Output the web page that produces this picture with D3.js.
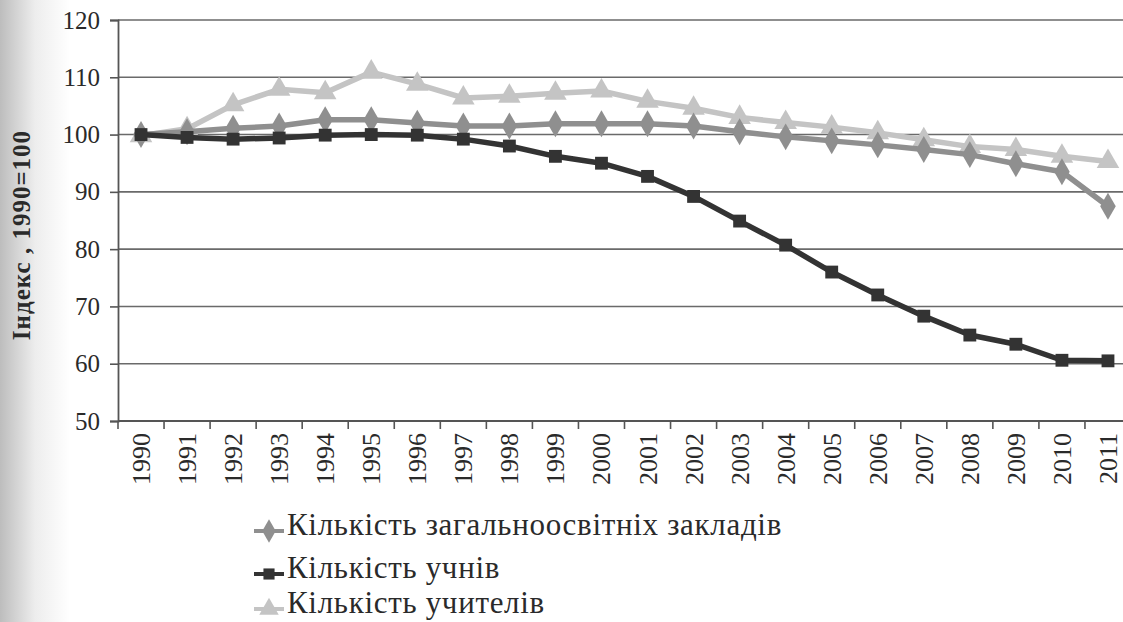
<!DOCTYPE html>
<html>
<head>
<meta charset="utf-8">
<script src="https://d3js.org/d3.v7.min.js"></script>
<style>
  html, body { margin: 0; padding: 0; background: #fff; }
  svg { display: block; }
</style>
</head>
<body>
<svg id="chart" width="1123" height="622"></svg>
<script>
// years on the x axis
var years = ["1990","1991","1992","1993","1994","1995","1996","1997","1998","1999","2000",
             "2001","2002","2003","2004","2005","2006","2007","2008","2009","2010","2011"];

// index values, 1990 = 100
var schools = [100, 100.5, 101.1, 101.5, 102.6, 102.6, 102, 101.5, 101.5, 101.9, 101.9,
               101.9, 101.5, 100.5, 99.6, 98.9, 98.2, 97.4, 96.5, 94.9, 93.5, 87.5];
var pupils = [100, 99.5, 99.2, 99.4, 99.9, 100, 99.9, 99.2, 98, 96.2, 95,
              92.7, 89.2, 84.9, 80.7, 76, 72, 68.3, 65, 63.4, 60.6, 60.5];
var teachers = [99.8, 101, 105.2, 107.9, 107.3, 110.9, 108.8, 106.4, 106.7, 107.2, 107.6,
                105.8, 104.6, 103, 102.1, 101.3, 100.3, 99.1, 97.9, 97.4, 96.2, 95.3];

var seriesNames = ["Кількість загальноосвітніх закладів", "Кількість учнів", "Кількість учителів"];
var yTicks = [50, 60, 70, 80, 90, 100, 110, 120];

var svg = d3.select("#chart");
var W = 1123, H = 622;
var serif = "Liberation Serif";

// scan shadow on the left edge
var defs = svg.append("defs");
var grad = defs.append("linearGradient").attr("id", "shade")
  .attr("x1", "0").attr("x2", "1").attr("y1", "0").attr("y2", "0");
grad.append("stop").attr("offset", "0").attr("stop-color", "#bdbdbd");
grad.append("stop").attr("offset", "0.5").attr("stop-color", "#ededed");
grad.append("stop").attr("offset", "1").attr("stop-color", "#fff");
svg.append("rect").attr("width", W).attr("height", H).attr("fill", "#fff");
svg.append("rect").attr("width", 70).attr("height", H).attr("fill", "url(#shade)");

var plotLeft = 118, plotRight = 1131, plotTop = 20, plotBottom = 421;

var x = d3.scaleBand().domain(years).range([plotLeft, plotRight]);
var y = d3.scaleLinear().domain([50, 120]).range([plotBottom, plotTop]);

// horizontal gridlines
svg.append("g").selectAll("line").data(yTicks.slice(1)).enter().append("line")
  .attr("x1", plotLeft).attr("x2", W)
  .attr("y1", function(d) { return y(d); }).attr("y2", function(d) { return y(d); })
  .attr("stroke", "#6a6a6a").attr("stroke-width", 1.6);

// y axis
var yAxis = svg.append("g").attr("transform", "translate(" + plotLeft + ",0)")
  .call(d3.axisLeft(y).tickValues(yTicks).tickSize(8).tickPadding(10));
yAxis.select(".domain").attr("stroke", "#555").attr("stroke-width", 1.8);
yAxis.selectAll(".tick line").attr("stroke", "#555").attr("stroke-width", 1.6);
yAxis.selectAll("text").style("font-family", serif).style("font-size", "25px").attr("fill", "#2a2a2a");

// x axis: ticks between categories
var xg = svg.append("g").attr("transform", "translate(0," + plotBottom + ")");
xg.append("line").attr("x1", plotLeft).attr("x2", W).attr("stroke", "#555").attr("stroke-width", 1.8);
xg.selectAll(".tk").data(years).enter().append("line").attr("class", "tk")
  .attr("x1", function(d) { return x(d); }).attr("x2", function(d) { return x(d); })
  .attr("y1", 0).attr("y2", 8).attr("stroke", "#555").attr("stroke-width", 1.6);
xg.selectAll("text").data(years).enter().append("text")
  .attr("transform", function(d) {
    return "translate(" + (x(d) + x.bandwidth() / 2 + 9) + ",12) rotate(-90)";
  })
  .attr("text-anchor", "end")
  .style("font-family", serif).style("font-size", "26px").attr("fill", "#2a2a2a")
  .text(function(d) { return d; });

// y axis title
svg.append("text")
  .attr("transform", "translate(30,235) rotate(-90)")
  .attr("text-anchor", "middle")
  .style("font-family", serif).style("font-weight", "bold").style("font-size", "25px")
  .style("letter-spacing", "1px").attr("fill", "#2a2a2a")
  .text("Індекс , 1990=100");

var cx = function(d, i) { return x(years[i]) + x.bandwidth() / 2; };
var line = d3.line().x(cx).y(function(d) { return y(d); });

var series = [
  { name: seriesNames[0], values: schools, color: "#8f8f8f", shape: d3.symbolDiamond, size: 210 },
  { name: seriesNames[1], values: pupils, color: "#333333", shape: d3.symbolSquare, size: 165 },
  { name: seriesNames[2], values: teachers, color: "#c4c4c4", shape: d3.symbolTriangle, size: 220 }
];

// draw in order: teachers, schools, pupils on top
[series[2], series[0], series[1]].forEach(function(s) {
  var g = svg.append("g");
  g.append("path").datum(s.values).attr("d", line)
    .attr("fill", "none").attr("stroke", s.color).attr("stroke-width", 5.5)
    .attr("stroke-linejoin", "round");
  g.selectAll("path.m").data(s.values).enter().append("path").attr("class", "m")
    .attr("d", d3.symbol().type(s.shape).size(s.size))
    .attr("transform", function(d, i) { return "translate(" + cx(d, i) + "," + y(d) + ")"; })
    .attr("fill", s.color);
});

// legend
var lg = svg.append("g");
var rowsY = [531, 574, 609];
var legendTexts = [];
series.forEach(function(s, i) {
  var r = lg.append("g").attr("transform", "translate(0," + rowsY[i] + ")");
  r.append("line").attr("x1", 254).attr("x2", 284).attr("stroke", s.color).attr("stroke-width", 4);
  r.append("path").attr("d", d3.symbol().type(s.shape).size(s.size * 0.75))
    .attr("transform", "translate(269,0)").attr("fill", s.color);
  legendTexts.push(r.append("text").attr("x", 287).attr("y", 4)
    .style("font-family", serif).style("font-size", "31px").attr("fill", "#2a2a2a")
    .text(s.name));
});
// the scanned legend type is set wider; spread letters so the first row spans ~495px
var w0 = legendTexts[0].node().getComputedTextLength();
var n0 = seriesNames[0].length;
var ls = Math.max(0, (495 - w0) / n0);
legendTexts.forEach(function(t) { t.style("letter-spacing", ls + "px"); });
</script>
</body>
</html>
